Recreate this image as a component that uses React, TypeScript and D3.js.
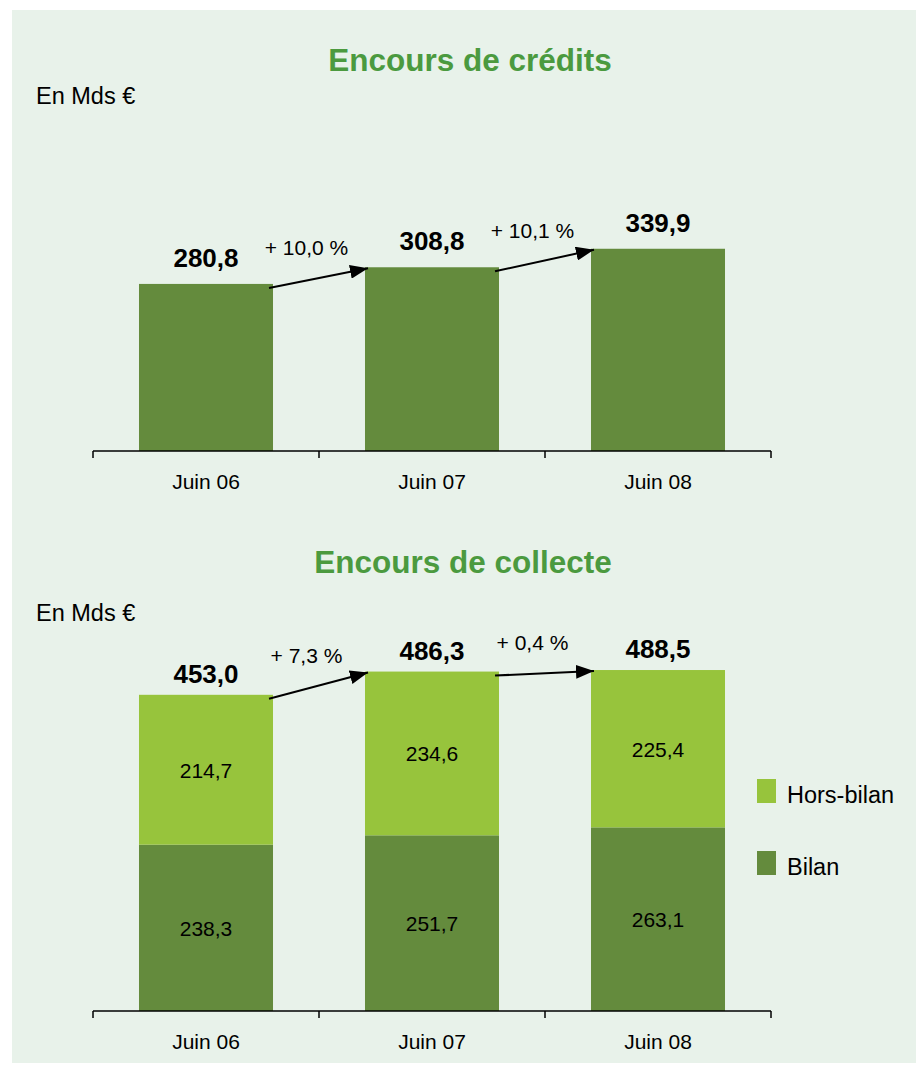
import React from "react";
import * as d3 from "d3";

const categories = ["Juin 06", "Juin 07", "Juin 08"];
const credits = [280.8, 308.8, 339.9];
const creditGrowth = ["+ 10,0 %", "+ 10,1 %"];
const bilan = [238.3, 251.7, 263.1];
const horsBilan = [214.7, 234.6, 225.4];
const collecteTotals = [453.0, 486.3, 488.5];
const collecteGrowth = ["+ 7,3 %", "+ 0,4 %"];
const legendLabels = ["Hors-bilan", "Bilan"];

const W = 916;
const H = 1065;
const FONT = "'Liberation Sans', Arial, sans-serif";
const DARK = "#648b3d";
const LIGHT = "#97c43c";
const TITLE = "#4b9a3f";
const BG = "#e8f2ea";

const fr = d3.formatLocale({ decimal: ",", thousands: " ", grouping: [3], currency: ["", " €"] });
const fmt = fr.format(".1f");

const x = d3
  .scaleBand<string>()
  .domain(categories)
  .range([93, 771])
  .paddingInner(0.407)
  .paddingOuter(0.2035);
const step = x.step();
const tickXs = d3.range(categories.length + 1).map((i) => 93 + i * step);

const yTop = d3.scaleLinear().domain([0, 400]).range([451, 213]);
const yBot = d3.scaleLinear().domain([0, 500]).range([1011, 662]);

function Axis({ y }: { y: number }) {
  return (
    <g>
      <line x1={tickXs[0]} x2={tickXs[tickXs.length - 1]} y1={y} y2={y} stroke="#000" strokeWidth={1.5} />
      {tickXs.map((tx, i) => (
        <line key={i} x1={tx} x2={tx} y1={y} y2={y + 7} stroke="#000" strokeWidth={1.5} />
      ))}
      {categories.map((c) => (
        <text
          key={c}
          x={(x(c) ?? 0) + x.bandwidth() / 2}
          y={y + 38}
          textAnchor="middle"
          fontSize={21}
          fontFamily={FONT}
        >
          {c}
        </text>
      ))}
    </g>
  );
}

function Arrows({ tops, labels }: { tops: number[]; labels: string[] }) {
  return (
    <g>
      {labels.map((lab, i) => {
        const x1 = (x(categories[i]) ?? 0) + x.bandwidth() - 4;
        const x2 = (x(categories[i + 1]) ?? 0) + 3;
        const y1 = tops[i] + 4;
        const y2 = tops[i + 1] + 1;
        return (
          <g key={lab}>
            <line x1={x1} y1={y1} x2={x2} y2={y2} stroke="#000" strokeWidth={2} markerEnd="url(#arrow)" />
            <text
              x={(x1 + x2) / 2 - 12}
              y={(y1 + y2) / 2 - 23}
              textAnchor="middle"
              fontSize={21}
              fontFamily={FONT}
            >
              {lab}
            </text>
          </g>
        );
      })}
    </g>
  );
}

export default function App() {
  const creditTops = credits.map((v) => yTop(v));
  const collecteTops = collecteTotals.map((v) => yBot(v));
  return (
    <svg width={W} height={H} style={{ position: "absolute", left: 0, top: 0 }} fontFamily={FONT}>
      <defs>
        <marker
          id="arrow"
          viewBox="0 0 18 14"
          refX={18}
          refY={7}
          markerWidth={18}
          markerHeight={14}
          markerUnits="userSpaceOnUse"
          orient="auto"
        >
          <path d="M0,0 L18,7 L0,14 Z" fill="#000" />
        </marker>
      </defs>
      <rect x={0} y={0} width={W} height={H} fill="#fff" />
      <rect x={12} y={10} width={W - 12} height={1053} fill={BG} />

      {/* Encours de crédits */}
      <text x={470} y={71} textAnchor="middle" fontSize={31.5} fontWeight="bold" fill={TITLE}>
        Encours de crédits
      </text>
      <text x={36} y={104} fontSize={23.5}>
        En Mds €
      </text>
      {credits.map((v, i) => (
        <g key={i}>
          <rect
            x={x(categories[i])}
            y={yTop(v)}
            width={x.bandwidth()}
            height={yTop(0) - yTop(v)}
            fill={DARK}
          />
          <text
            x={(x(categories[i]) ?? 0) + x.bandwidth() / 2}
            y={yTop(v) - 17}
            textAnchor="middle"
            fontSize={26}
            fontWeight="bold"
          >
            {fmt(v)}
          </text>
        </g>
      ))}
      <Arrows tops={creditTops} labels={creditGrowth} />
      <Axis y={yTop(0)} />

      {/* Encours de collecte */}
      <text x={463} y={573} textAnchor="middle" fontSize={31.5} fontWeight="bold" fill={TITLE}>
        Encours de collecte
      </text>
      <text x={36} y={621} fontSize={23.5}>
        En Mds €
      </text>
      {categories.map((c, i) => {
        const bx = x(c) ?? 0;
        const cx = bx + x.bandwidth() / 2;
        const b = bilan[i];
        const h = horsBilan[i];
        return (
          <g key={c}>
            <rect x={bx} y={yBot(b)} width={x.bandwidth()} height={yBot(0) - yBot(b)} fill={DARK} />
            <rect x={bx} y={yBot(b + h)} width={x.bandwidth()} height={yBot(b) - yBot(b + h)} fill={LIGHT} />
            <text x={cx} y={(yBot(0) + yBot(b)) / 2 + 8} textAnchor="middle" fontSize={21}>
              {fmt(b)}
            </text>
            <text x={cx} y={(yBot(b) + yBot(b + h)) / 2 + 8} textAnchor="middle" fontSize={21}>
              {fmt(h)}
            </text>
            <text x={cx} y={yBot(collecteTotals[i]) - 12} textAnchor="middle" fontSize={26} fontWeight="bold">
              {fmt(collecteTotals[i])}
            </text>
          </g>
        );
      })}
      <Arrows tops={collecteTops} labels={collecteGrowth} />
      <Axis y={yBot(0)} />

      {/* Legend */}
      {legendLabels.map((lab, i) => (
        <g key={lab} transform={`translate(757, ${779 + i * 72})`}>
          <rect x={0} y={0} width={19} height={24} fill={i === 0 ? LIGHT : DARK} />
          <text x={30} y={24} fontSize={23.5}>
            {lab}
          </text>
        </g>
      ))}
    </svg>
  );
}
